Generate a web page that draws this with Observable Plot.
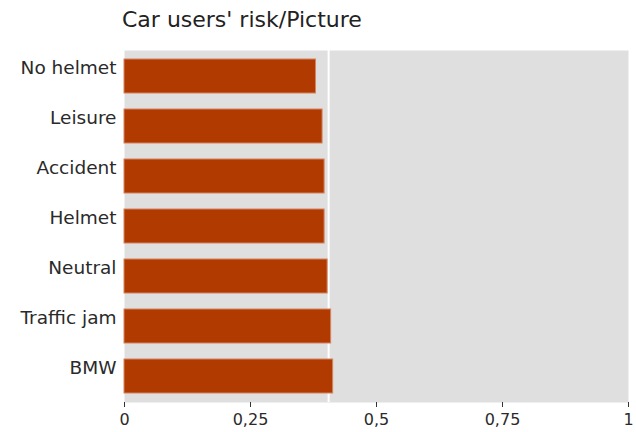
<!DOCTYPE html>
<html>
<head>
<meta charset="utf-8">
<script src="https://cdn.jsdelivr.net/npm/d3@7"></script>
<script src="https://cdn.jsdelivr.net/npm/@observablehq/plot@0.6"></script>
<style>
  html, body { margin: 0; padding: 0; background: #fff; }
  #title { font-family: "DejaVu Sans", Verdana, sans-serif; font-size: 22px; color: #222;
           height: 40px; line-height: 40px; padding-left: 122px; white-space: nowrap; }
</style>
</head>
<body>
<div id="title">Car users' risk/Picture</div>
<div id="chart"></div>
<script>
const categories = ["No helmet", "Leisure", "Accident", "Helmet", "Neutral", "Traffic jam", "BMW"];
const values = [0.380, 0.393, 0.397, 0.397, 0.403, 0.410, 0.414];
const referenceLine = [0.405];
const xTicks = [0, 0.25, 0.5, 0.75, 1];

const data = categories.map((c, i) => ({category: c, value: values[i]}));

const chart = Plot.plot({
  width: 636,
  height: 392,
  marginLeft: 124,
  marginRight: 8,
  marginTop: 10,
  marginBottom: 30,
  style: {fontFamily: "\"DejaVu Sans\", Verdana, sans-serif", color: "#2a2a2a", background: "#fff"},
  x: {domain: [0, 1], ticks: xTicks, tickFormat: d => String(d).replace(".", ",")},
  y: {domain: categories, paddingInner: 0.32, paddingOuter: 0.16, label: null},
  marks: [
    Plot.frame({fill: "#dfdfdf", stroke: null}),
    Plot.ruleX(referenceLine, {stroke: "#fff", strokeWidth: 2}),
    Plot.barX(data, {x: "value", y: "category", fill: "#b03a00", stroke: "#d58460", strokeWidth: 1}),
    Plot.axisX({ticks: xTicks, tickFormat: d => String(d).replace(".", ","), tickSize: 5, tickPadding: 6,
                label: null, fontSize: 16, stroke: "#333"}),
    Plot.axisY({tickSize: 0, tickPadding: 8, label: null, fontSize: 18.5, dy: -8})
  ]
});
document.getElementById("chart").appendChild(chart);
</script>
</body>
</html>
